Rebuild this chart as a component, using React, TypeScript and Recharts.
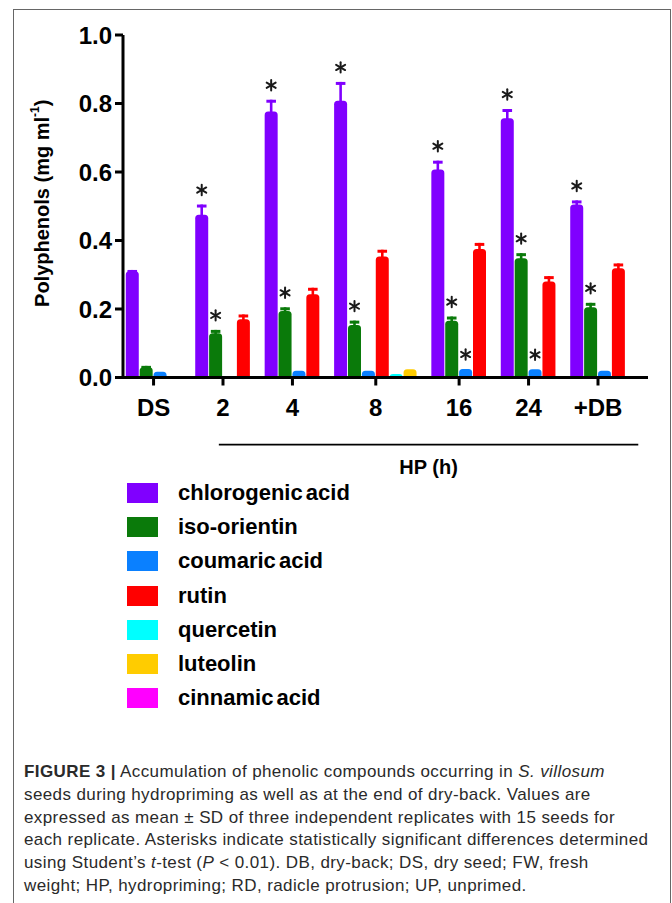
import React from 'react';
import { BarChart, Bar, XAxis, YAxis, Legend, ReferenceLine } from 'recharts';

const FONT = '"Liberation Sans", Arial, Helvetica, sans-serif';

// ---- categories ----
const GROUPS = ['DS', '2', '4', '8', '16', '24', '+DB'];

// ---- series (mg ml-1), mean / SD / significance ----
const chlorogenicAcid = [0.31, 0.475, 0.777, 0.808, 0.607, 0.757, 0.505];
const chlorogenicAcidSD = [0.004, 0.03, 0.034, 0.055, 0.026, 0.027, 0.012];
const chlorogenicAcidSig = [false, true, true, true, true, true, true];

const isoOrientin = [0.03, 0.129, 0.194, 0.153, 0.166, 0.348, 0.205];
const isoOrientinSD = [0.004, 0.01, 0.011, 0.013, 0.012, 0.015, 0.013];
const isoOrientinSig = [false, true, true, true, true, true, true];

const coumaricAcid = [0.017, null, 0.02, 0.02, 0.025, 0.024, 0.02];
const coumaricAcidSD = [0, 0, 0, 0, 0, 0, 0];
const coumaricAcidSig = [false, false, false, false, true, true, false];

const rutin = [null, 0.17, 0.243, 0.353, 0.375, 0.28, 0.319];
const rutinSD = [0, 0.014, 0.019, 0.02, 0.018, 0.016, 0.014];
const rutinSig = [false, false, false, false, false, false, false];

const quercetin = [null, null, null, 0.01, null, null, null];
const quercetinSD = [0, 0, 0, 0, 0, 0, 0];
const quercetinSig = [false, false, false, false, false, false, false];

const luteolin = [null, null, null, 0.024, null, null, null];
const luteolinSD = [0, 0, 0, 0, 0, 0, 0];
const luteolinSig = [false, false, false, false, false, false, false];

const cinnamicAcid = [null, null, null, null, null, null, null];
const cinnamicAcidSD = [0, 0, 0, 0, 0, 0, 0];
const cinnamicAcidSig = [false, false, false, false, false, false, false];

const SERIES_NAMES = ['chlorogenic acid', 'iso-orientin', 'coumaric acid', 'rutin', 'quercetin', 'luteolin', 'cinnamic acid'];
const SERIES_COLORS = ['#8000ff', '#0a7a0a', '#0a80ff', '#ff0000', '#00ffff', '#ffcc00', '#ff00ff'];

const Y_TICKS = [0, 0.2, 0.4, 0.6, 0.8, 1.0];

const SERIES = [
  { values: chlorogenicAcid, sd: chlorogenicAcidSD, sig: chlorogenicAcidSig },
  { values: isoOrientin, sd: isoOrientinSD, sig: isoOrientinSig },
  { values: coumaricAcid, sd: coumaricAcidSD, sig: coumaricAcidSig },
  { values: rutin, sd: rutinSD, sig: rutinSig },
  { values: quercetin, sd: quercetinSD, sig: quercetinSig },
  { values: luteolin, sd: luteolinSD, sig: luteolinSig },
  { values: cinnamicAcid, sd: cinnamicAcidSD, sig: cinnamicAcidSig },
].map((s, i) => ({ ...s, name: SERIES_NAMES[i], color: SERIES_COLORS[i] }));

// Build slot table: the four main compounds always own a slot in each group,
// minor compounds get a slot only where they were detected; one empty slot between groups.
const MAIN_COUNT = 4;
const rows: any[] = [];
const groupCenters: number[] = [];
const groupEnds: number[] = [];
let slot = 0;
GROUPS.forEach((g, gi) => {
  const start = slot;
  SERIES.forEach((s, si) => {
    const v = s.values[gi];
    const owns = si < MAIN_COUNT || (v != null && v > 0);
    if (!owns) return;
    if (v != null) {
      rows.push({ x: slot + 0.5, value: v, sd: s.sd[gi] || 0, sig: s.sig[gi], color: s.color, group: g });
    }
    slot += 1;
  });
  groupCenters.push((start + slot) / 2);
  groupEnds.push(slot);
  slot += 1;
});

const X_DOMAIN: [number, number] = [-0.2, slot + 0.6];
const HP_START = groupCenters[1] - 0.3;
const HP_END = groupEnds[groupEnds.length - 1] + 0.9;
const HP_LINE_Y = -0.196;

const BarShape = (props: any) => {
  const { x, y, width, height, payload } = props;
  if (!payload || !(payload.value > 0)) return null;
  const cx = x + width / 2;
  const pxPerUnit = height / payload.value;
  const errTop = y - payload.sd * pxPerUnit;
  const r = Math.max(0, Math.min(3.5, width / 2, height));
  const bottom = y + height;
  const d = `M${x},${bottom} L${x},${y + r} Q${x},${y} ${x + r},${y} L${x + width - r},${y} Q${x + width},${y} ${x + width},${y + r} L${x + width},${bottom} Z`;
  const starY = errTop - 14.5;
  const sr = 5.2;
  const c60 = Math.cos(Math.PI / 6) * sr;
  const s60 = Math.sin(Math.PI / 6) * sr;
  return (
    <g>
      <path d={d} fill={payload.color} />
      {payload.sd > 0 && (
        <g stroke={payload.color} strokeLinecap="butt">
          <line x1={cx} y1={y + 1} x2={cx} y2={errTop} strokeWidth={2.6} />
          <line x1={cx - 4.8} y1={errTop + 1.5} x2={cx + 4.8} y2={errTop + 1.5} strokeWidth={3} />
        </g>
      )}
      {payload.sig && (
        <g stroke="#1a1a1a" strokeWidth={2} strokeLinecap="round">
          <line x1={cx} y1={starY - sr} x2={cx} y2={starY + sr} />
          <line x1={cx - c60} y1={starY - s60} x2={cx + c60} y2={starY + s60} />
          <line x1={cx - c60} y1={starY + s60} x2={cx + c60} y2={starY - s60} />
        </g>
      )}
    </g>
  );
};

const YLabel = (props: any) => {
  const vb = props.viewBox || { x: 0, y: 0, width: 0, height: 0 };
  const cx = vb.x + 42;
  const cy = vb.y + vb.height / 2 - 3;
  return (
    <text
      x={cx}
      y={cy}
      transform={`rotate(-90, ${cx}, ${cy})`}
      textAnchor="middle"
      dominantBaseline="central"
      fill="#000"
      fontFamily={FONT}
      fontSize={20}
      fontWeight={700}
    >
      Polyphenols (mg ml
      <tspan dy={-7} fontSize={12}>-1</tspan>
      <tspan dy={7}>)</tspan>
    </text>
  );
};

const renderLegend = () => (
  <div>
    {SERIES.map((s) => (
      <div key={s.name} style={{ display: 'flex', alignItems: 'center', height: 34.2 }}>
        <span style={{ display: 'inline-block', width: 31, height: 20, background: s.color, marginRight: 20 }} />
        <span style={{ fontFamily: FONT, fontSize: 22, fontWeight: 700, color: '#000', wordSpacing: -3, whiteSpace: 'nowrap' }}>
          {s.name}
        </span>
      </div>
    ))}
  </div>
);

const CAPTION_LINES: React.ReactNode[] = [
  <><b>FIGURE 3 |</b> Accumulation of phenolic compounds occurring in <i>S. villosum</i></>,
  <>seeds during hydropriming as well as at the end of dry-back. Values are</>,
  <>expressed as mean ± SD of three independent replicates with 15 seeds for</>,
  <>each replicate. Asterisks indicate statistically significant differences determined</>,
  <>using Student’s <i>t</i>-test (<i>P</i> &lt; 0.01). DB, dry-back; DS, dry seed; FW, fresh</>,
  <>weight; HP, hydropriming; RD, radicle protrusion; UP, unprimed.</>,
];

export default function App() {
  return (
    <div style={{ position: 'absolute', left: 0, top: 0, width: 672, height: 903, background: '#fff', overflow: 'hidden' }}>
      <div
        style={{
          position: 'absolute',
          left: 13,
          top: 9,
          width: 656,
          height: 900,
          borderTop: '1px solid #666',
          borderLeft: '1px solid #666',
          borderRight: '1px solid #666',
        }}
      />
      <div style={{ position: 'absolute', left: 0, top: 0 }}>
        <BarChart
          width={672}
          height={720}
          data={rows}
          margin={{ top: 35, right: 24, left: 0, bottom: 302.5 }}
        >
          <XAxis
            type="number"
            dataKey="x"
            domain={X_DOMAIN}
            ticks={groupCenters}
            interval={0}
            tickFormatter={(v: number) => GROUPS[groupCenters.indexOf(v)] ?? ''}
            height={40}
            axisLine={{ stroke: '#000', strokeWidth: 3 }}
            tickLine={{ stroke: '#000', strokeWidth: 3 }}
            tickSize={8}
            tickMargin={13}
            tick={{ fill: '#000', fontSize: 24, fontWeight: 700, fontFamily: FONT }}
            allowDataOverflow
          />
          <YAxis
            type="number"
            domain={[0, 1]}
            ticks={Y_TICKS}
            interval={0}
            tickFormatter={(v: number) => v.toFixed(1)}
            width={123}
            axisLine={{ stroke: '#000', strokeWidth: 3 }}
            tickLine={{ stroke: '#000', strokeWidth: 3 }}
            tickSize={8}
            tickMargin={3}
            tick={{ fill: '#000', fontSize: 24, fontWeight: 700, fontFamily: FONT }}
            label={(p: any) => <YLabel {...p} />}
          />
          <Bar dataKey="value" barSize={13} isAnimationActive={false} shape={BarShape} />
          <ReferenceLine
            segment={[{ x: HP_START, y: HP_LINE_Y }, { x: HP_END, y: HP_LINE_Y }]}
            ifOverflow="visible"
            stroke="#000"
            strokeWidth={1.6}
            label={{ value: 'HP (h)', position: 'bottom', offset: 15, fill: '#000', fontSize: 20, fontWeight: 700, fontFamily: FONT }}
          />
          <Legend
            layout="vertical"
            verticalAlign="middle"
            align="center"
            wrapperStyle={{ top: 476, left: 127, width: 400, height: 240 }}
            content={renderLegend}
          />
        </BarChart>
      </div>
      <div
        style={{
          position: 'absolute',
          left: 24,
          top: 761,
          fontFamily: FONT,
          fontSize: 17,
          letterSpacing: 0.4,
          lineHeight: '22.8px',
          color: '#2a2a2a',
          whiteSpace: 'nowrap',
        }}
      >
        {CAPTION_LINES.map((l, i) => (
          <div key={i}>{l}</div>
        ))}
      </div>
    </div>
  );
}
